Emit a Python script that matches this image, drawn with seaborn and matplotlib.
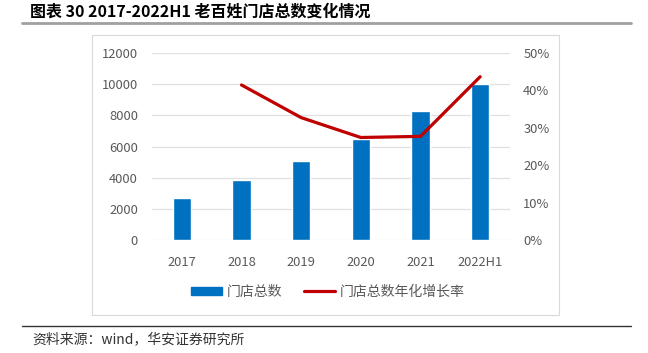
import numpy as np
import pandas as pd
import matplotlib
matplotlib.use('Agg')
import matplotlib.pyplot as plt
from matplotlib.patches import Rectangle
from matplotlib.lines import Line2D
from matplotlib.ticker import FuncFormatter
import seaborn as sns

anos = ['2017', '2018', '2019', '2020', '2021', '2022H1']
lojas = [2700, 3850, 5100, 6500, 8300, 10000]
anos_cresc = ['2018', '2019', '2020', '2021', '2022H1']
cresc = [0.414, 0.327, 0.274, 0.277, 0.436]

sns.set_theme(style='white')
plt.rcParams['font.family'] = ['Noto Sans CJK SC', 'DejaVu Sans']
cinza = '#595959'

df_lojas = pd.DataFrame({'ano': anos, 'lojas': lojas})
df_cresc = pd.DataFrame({'pos': [anos.index(a) for a in anos_cresc], 'cresc': cresc})

fig = plt.figure(figsize=(6.48, 3.53), dpi=100)
W, H = 648, 353
ax = fig.add_axes([152 / W, 1 - 240.3 / H, (510 - 152) / W, (240.3 - 52.7) / H])

sns.barplot(data=df_lojas, x='ano', y='lojas', color='#0070C0', width=0.31,
            saturation=1, ax=ax, zorder=3)
ax.set_ylim(0, 12000)
ax.set_yticks(np.arange(0, 12001, 2000))
ax.set_xlim(-0.5, 5.5)
ax.set_xlabel('')
ax.set_ylabel('')
ax.grid(axis='y', color='#E0E0E0', lw=0.9, zorder=0)
ax.set_axisbelow(True)
for s in ax.spines.values():
    s.set_visible(False)
ax.tick_params(axis='y', length=0, pad=10, labelsize=9.3, labelcolor=cinza)
ax.tick_params(axis='x', length=0, pad=11, labelsize=9.3, labelcolor=cinza)

ax2 = ax.twinx()
sns.lineplot(data=df_cresc, x='pos', y='cresc', color='#C00000', lw=2.3, ax=ax2, zorder=4)
ax2.set_ylim(0, 0.5)
ax2.set_yticks(np.arange(0, 0.51, 0.1))
ax2.yaxis.set_major_formatter(FuncFormatter(lambda v, p: f'{v:.0%}'))
ax2.set_ylabel('')
ax2.set_xlabel('')
for s in ax2.spines.values():
    s.set_visible(False)
ax2.tick_params(axis='y', length=0, pad=9.5, labelsize=9.3, labelcolor=cinza)
ax.set_xlim(-0.5, 5.5)

handles = [Rectangle((0, 0), 1, 1, color='#0070C0'),
           Line2D([0], [0], color='#C00000', lw=2.3)]
fig.legend(handles, ['门店总数', '门店总数年化增长率'], loc='center',
           bbox_to_anchor=(328 / W, 1 - 291.7 / H), ncol=2, frameon=False,
           fontsize=10, labelcolor=cinza, handlelength=2.2, handleheight=0.55,
           handletextpad=0.35, columnspacing=1.6)

# moldura do grafico
fig.add_artist(Rectangle((92 / W, 1 - 315 / H), (559 - 92) / W, (315 - 35) / H,
                         transform=fig.transFigure, fill=False,
                         edgecolor='#D9D9D9', lw=0.8))

fig.text(30 / W, 1 - 12 / H, '图表 30 2017-2022H1 老百姓门店总数变化情况',
         fontsize=11.5, fontweight='bold', va='center', ha='left', color='#000000')
fig.add_artist(Line2D([22 / W, 631 / W], [1 - 23 / H, 1 - 23 / H],
                      transform=fig.transFigure, color='#A0A0A0', lw=2))
fig.add_artist(Line2D([22 / W, 631 / W], [1 - 326 / H, 1 - 326 / H],
                      transform=fig.transFigure, color='#333333', lw=1))
fig.text(32 / W, 1 - 339 / H, '资料来源：wind，华安证券研究所',
         fontsize=10, va='center', ha='left', color='#333333')

fig.savefig('out.png', dpi=100)
